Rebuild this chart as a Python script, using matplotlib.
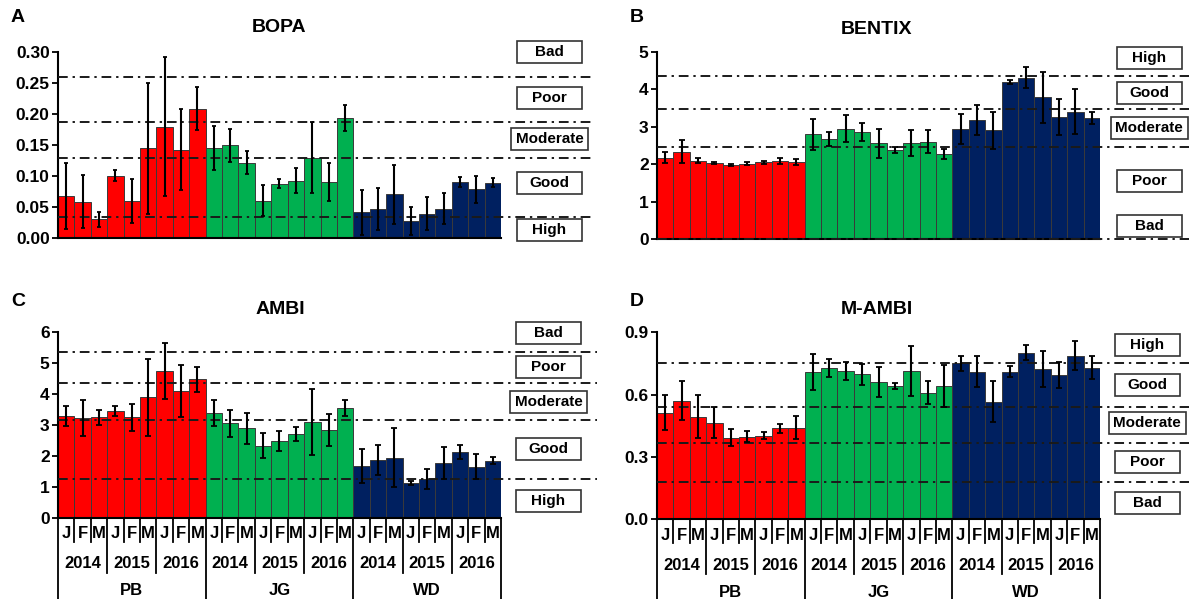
import matplotlib
matplotlib.use('Agg')
import matplotlib.pyplot as plt
from matplotlib.patches import Rectangle
from matplotlib.transforms import blended_transform_factory

plt.rcParams['font.family'] = ['Liberation Sans', 'DejaVu Sans']
plt.rcParams['font.weight'] = 'bold'

# ---------------- data ----------------
sites = ['PB', 'JG', 'WD']
years = ['2014', '2015', '2016']
months = ['J', 'F', 'M']
site_colors = ['#FF0000', '#00B050', '#002060']

bopa_mean = [0.067, 0.058, 0.030, 0.100, 0.059, 0.144, 0.179, 0.142, 0.208,
             0.145, 0.149, 0.121, 0.060, 0.087, 0.092, 0.129, 0.090, 0.193,
             0.041, 0.046, 0.070, 0.027, 0.039, 0.047, 0.090, 0.078, 0.089]
bopa_sd = [0.053, 0.043, 0.012, 0.009, 0.036, 0.105, 0.112, 0.065, 0.035,
           0.035, 0.027, 0.019, 0.025, 0.007, 0.020, 0.057, 0.030, 0.021,
           0.036, 0.034, 0.048, 0.022, 0.026, 0.025, 0.008, 0.022, 0.008]
bopa_thr = [0.259, 0.187, 0.129, 0.034]
bopa_classes = ['Bad', 'Poor', 'Moderate', 'Good', 'High']

bentix_mean = [2.18, 2.34, 2.10, 2.03, 1.98, 2.02, 2.05, 2.10, 2.06,
               2.80, 2.67, 2.95, 2.86, 2.56, 2.38, 2.56, 2.60, 2.28,
               2.93, 3.18, 2.90, 4.20, 4.31, 3.78, 3.25, 3.40, 3.23]
bentix_sd = [0.15, 0.30, 0.07, 0.03, 0.02, 0.05, 0.04, 0.08, 0.07,
             0.41, 0.18, 0.36, 0.24, 0.38, 0.07, 0.35, 0.30, 0.14,
             0.40, 0.41, 0.48, 0.05, 0.29, 0.69, 0.48, 0.60, 0.17]
bentix_thr = [4.35, 3.48, 2.45, 0.0]
bentix_classes = ['High', 'Good', 'Moderate', 'Poor', 'Bad']

ambi_mean = [3.28, 3.22, 3.24, 3.44, 3.24, 3.88, 4.73, 4.10, 4.46,
             3.39, 3.04, 2.88, 2.32, 2.48, 2.70, 3.09, 2.83, 3.53,
             1.67, 1.86, 1.94, 1.11, 1.24, 1.77, 2.12, 1.65, 1.84]
ambi_sd = [0.32, 0.58, 0.25, 0.16, 0.43, 1.23, 0.89, 0.84, 0.41,
           0.42, 0.45, 0.50, 0.40, 0.32, 0.22, 1.07, 0.53, 0.26,
           0.54, 0.47, 0.94, 0.07, 0.32, 0.52, 0.24, 0.40, 0.11]
ambi_thr = [5.36, 4.36, 3.15, 1.26]
ambi_classes = ['Bad', 'Poor', 'Moderate', 'Good', 'High']

mambi_mean = [0.513, 0.571, 0.494, 0.465, 0.393, 0.398, 0.403, 0.438, 0.441,
              0.710, 0.727, 0.715, 0.698, 0.662, 0.641, 0.713, 0.609, 0.641,
              0.751, 0.710, 0.566, 0.710, 0.802, 0.722, 0.694, 0.787, 0.730]
mambi_sd = [0.083, 0.095, 0.103, 0.076, 0.042, 0.026, 0.015, 0.022, 0.055,
            0.087, 0.044, 0.043, 0.050, 0.072, 0.014, 0.119, 0.056, 0.100,
            0.037, 0.074, 0.099, 0.026, 0.036, 0.087, 0.063, 0.069, 0.054]
mambi_thr = [0.754, 0.542, 0.369, 0.180]
mambi_classes = ['High', 'Good', 'Moderate', 'Poor', 'Bad']

# ---------------- layout ----------------
W, H = 1189, 599
fig = plt.figure(figsize=(W / 100, H / 100), dpi=100)

panels = [
    dict(letter='A', title='BOPA', mean=bopa_mean, sd=bopa_sd, thr=bopa_thr,
         classes=bopa_classes, ylim=(0, 0.30),
         yticks=[0, 0.05, 0.10, 0.15, 0.20, 0.25, 0.30], fmt='{:.2f}',
         rect=(58, 51.7, 501, 237.7), line_end=593, box_cx=549.5,
         box_y=[51.7, 98, 139, 183, 230], title_xy=(279, 27), letter_xy=(18, 18),
         xlab=False, cap=1.5),
    dict(letter='B', title='BENTIX', mean=bentix_mean, sd=bentix_sd, thr=bentix_thr,
         classes=bentix_classes, ylim=(0, 5),
         yticks=[0, 1, 2, 3, 4, 5], fmt='{:.0f}',
         rect=(657, 51.7, 1100, 239.3), line_end=1189, box_cx=1149,
         box_y=[57.7, 92.7, 127.7, 181, 226], title_xy=(877, 30), letter_xy=(637, 18),
         xlab=False, cap=2),
    dict(letter='C', title='AMBI', mean=ambi_mean, sd=ambi_sd, thr=ambi_thr,
         classes=ambi_classes, ylim=(0, 6),
         yticks=[0, 1, 2, 3, 4, 5, 6], fmt='{:.0f}',
         rect=(58, 331.7, 501, 517.7), line_end=597, box_cx=548.5,
         box_y=[332.7, 367, 401.7, 449, 500.7], title_xy=(280, 310), letter_xy=(18, 302),
         xlab=True, cap=2.5),
    dict(letter='D', title='M-AMBI', mean=mambi_mean, sd=mambi_sd, thr=mambi_thr,
         classes=mambi_classes, ylim=(0, 0.9),
         yticks=[0, 0.3, 0.6, 0.9], fmt='{:.1f}',
         rect=(657, 332.3, 1100, 519.3), line_end=1189, box_cx=1147,
         box_y=[345, 385, 423, 462, 503], title_xy=(877, 310), letter_xy=(637, 302),
         xlab=True, cap=2.5),
]

LINE_COLOR = '#1a1a1a'
DASH = (0, (5, 2.5, 1.2, 2.5))


def fy(py):
    return 1 - py / H


n = len(sites) * len(years) * len(months)
x = list(range(n))
bar_colors = [site_colors[i // 9] for i in x]

for p in panels:
    l, t, r, b = p['rect']
    ax = fig.add_axes([l / W, 1 - b / H, (r - l) / W, (b - t) / H])
    ax.bar(x, p['mean'], width=1.0, color=bar_colors, edgecolor='#3a3a3a',
           linewidth=0.7, zorder=2)
    ax.errorbar(x, p['mean'], yerr=p['sd'], fmt='none', ecolor='black',
                elinewidth=1.5, capsize=p['cap'], capthick=1.3, zorder=4)
    xmax = (p['line_end'] - l) / (r - l)
    for tv in p['thr']:
        ax.axhline(tv, xmin=0, xmax=xmax, clip_on=False, color=LINE_COLOR,
                   lw=1.4, ls=DASH, zorder=3)
    ax.set_xlim(-0.5, n - 0.5)
    ax.set_ylim(*p['ylim'])
    ax.set_yticks(p['yticks'])
    ax.set_yticklabels([p['fmt'].format(v) for v in p['yticks']],
                       fontsize=12.5, fontweight='bold')
    ax.tick_params(axis='y', direction='out', length=4, width=1.3, pad=2)
    ax.set_xticks([])
    for s in ['top', 'right']:
        ax.spines[s].set_visible(False)
    for s in ['left', 'bottom']:
        ax.spines[s].set_linewidth(1.5)
        ax.spines[s].set_color('black')

    # titles and letters
    fig.text(p['title_xy'][0] / W, fy(p['title_xy'][1]), p['title'],
             ha='center', va='center', fontsize=14, fontweight='bold')
    fig.text(p['letter_xy'][0] / W, fy(p['letter_xy'][1]), p['letter'],
             ha='center', va='center', fontsize=14, fontweight='bold')

    # class boxes
    for cls, cy in zip(p['classes'], p['box_y']):
        bw = 77 if cls == 'Moderate' else 65
        bh = 22
        cx = p['box_cx']
        rect = Rectangle(((cx - bw / 2) / W, fy(cy + bh / 2)), bw / W, bh / H,
                         transform=fig.transFigure, facecolor='white',
                         edgecolor='#333333', linewidth=1.2, zorder=5)
        fig.add_artist(rect)
        fig.text(cx / W, fy(cy), cls, ha='center', va='center', fontsize=11,
                 fontweight='bold', zorder=6)

    # hierarchical x labels
    if p['xlab']:
        trans = blended_transform_factory(ax.transData, fig.transFigure)
        for i in x:
            ax.text(i, fy(b + 16), months[i % 3], transform=trans, ha='center',
                    va='center', fontsize=12, fontweight='bold')
        for s in range(len(sites)):
            for yy in range(len(years)):
                ax.text(s * 9 + yy * 3 + 1, fy(b + 46), years[yy], transform=trans,
                        ha='center', va='center', fontsize=12, fontweight='bold')
            ax.text(s * 9 + 4, fy(b + 73), sites[s], transform=trans, ha='center',
                    va='center', fontsize=12, fontweight='bold')
        for k in range(n + 1):
            xb = k - 0.5
            if k % 9 == 0:
                y2 = H + 5
            elif k % 3 == 0:
                y2 = b + 55
            else:
                y2 = b + 24
            ax.plot([xb, xb], [fy(b), fy(y2)], transform=trans, clip_on=False,
                    color='black', lw=1.3)

fig.savefig('out.png', dpi=100)
